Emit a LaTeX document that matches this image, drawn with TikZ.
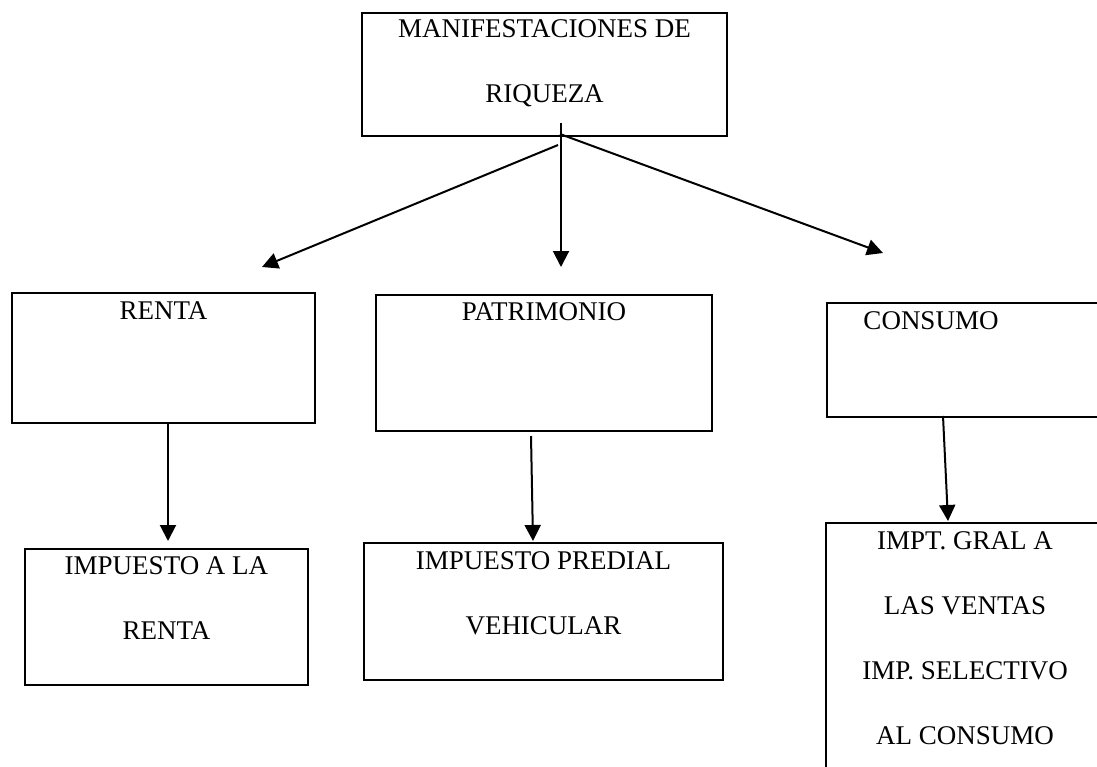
\documentclass[tikz,border=0pt]{standalone}
\usepackage{fontspec}
\setmainfont{Liberation Serif}
\usetikzlibrary{arrows.meta,positioning}
\tikzset{
	caja/.style={draw,line width=2pt,rectangle,inner sep=0pt},
	texto/.style={inner sep=0pt,align=center,font={\fontsize{27}{65}\selectfont}},
	flecha/.style={line width=2pt,-{Triangle[length=16pt,width=16pt]}}
}
\begin{document}
\begin{tikzpicture}[x=1pt,y=-1pt]
	\useasboundingbox (0,0) rectangle (1097,766);
	\clip (0,0) rectangle (1097,766);
	\node[caja,minimum width=365pt,minimum height=123pt] (riqueza) at (544.5,74.5) {};
	\node[caja,minimum width=303pt,minimum height=130pt] (renta) at (163.5,358) {};
	\node[caja,minimum width=336pt,minimum height=136pt] (patrimonio) at (544,363) {};
	\node[caja,minimum width=293pt,minimum height=114pt] (consumo) at (973.5,360) {};
	\node[caja,minimum width=283pt,minimum height=136pt] (imprenta) at (166.5,617) {};
	\node[caja,minimum width=359pt,minimum height=137pt] (predial) at (543.5,611.5) {};
	\node[caja,minimum width=284pt,minimum height=277pt] (ventas) at (968,661.5) {};
	\node[texto,below=7pt of riqueza.north] (triqueza) {MANIFESTACIONES DE\\RIQUEZA};
	\node[texto,below=9pt of renta.north] (trenta) {RENTA};
	\node[texto,below=8pt of patrimonio.north] (tpatrimonio) {PATRIMONIO};
	\node[texto,below=9pt of consumo.north,xshift=-42.5pt] (tconsumo) {CONSUMO};
	\node[texto,below=8pt of imprenta.north] (timprenta) {IMPUESTO A LA\\RENTA};
	\node[texto,below=9pt of predial.north] (tpredial) {IMPUESTO PREDIAL\\VEHICULAR};
	\node[texto,below=9pt of ventas.north,xshift=-3pt] (tventas) {IMPT. GRAL A\\LAS VENTAS\\IMP. SELECTIVO\\AL CONSUMO};
	% flechas que salen de la caja de arriba
	\coordinate (sL) at (558,145);
	\coordinate (sM) at (561,123);
	\coordinate (sR) at (560,134);
	\coordinate (tL) at (262,267);
	\coordinate (tM) at (561,267);
	\coordinate (tR) at (883,253);
	\draw[flecha] (sL)--(tL);
	\draw[flecha] (sM)--(tM);
	\draw[flecha] (sR)--(tR);
	\draw[flecha] ([xshift=4.5pt]renta.south)--([xshift=1.5pt,yshift=7pt]imprenta.north);
	\draw[flecha] ([xshift=-13pt,yshift=-4pt]patrimonio.south)--([xshift=-10.5pt,yshift=1pt]predial.north);
	\draw[flecha] ([xshift=-30.5pt,yshift=2pt]consumo.south)--([xshift=-20pt,yshift=1pt]ventas.north);
\end{tikzpicture}
\end{document}
